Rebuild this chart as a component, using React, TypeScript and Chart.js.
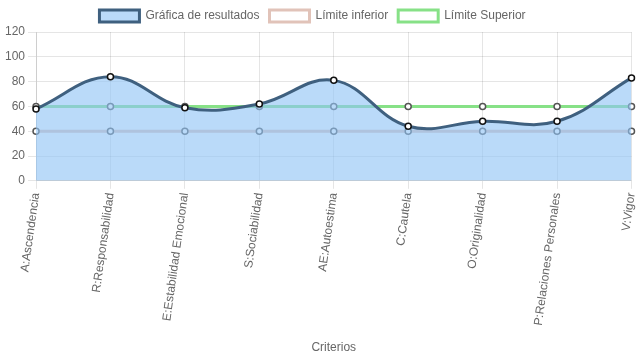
import React, { useEffect, useRef } from "react";
import { Chart, registerables } from "chart.js";

Chart.register(...registerables);

const categories = [
  "A:Ascendencia",
  "R:Responsabilidad",
  "E:Estabilidad Emocional",
  "S:Sociabilidad",
  "AE:Autoestima",
  "C:Cautela",
  "O:Originalidad",
  "P:Relaciones Personales",
  "V:Vigor",
];
const resultados = [58, 84, 59, 62, 81, 44, 48, 48, 83];
const limiteInferior = [40, 40, 40, 40, 40, 40, 40, 40, 40];
const limiteSuperior = [60, 60, 60, 60, 60, 60, 60, 60, 60];

export default function App() {
  const ref = useRef<HTMLCanvasElement>(null);
  useEffect(() => {
    document.body.style.margin = "0";
    const font = { family: "'Liberation Sans', Arial, sans-serif", size: 12 };
    Chart.defaults.color = "#666";
    const chart = new Chart(ref.current!, {
      type: "line",
      data: {
        labels: categories,
        datasets: [
          {
            label: "Gráfica de resultados",
            data: resultados,
            borderColor: "#3f607f",
            backgroundColor: "rgba(144,195,245,0.62)",
            borderWidth: 3,
            fill: "origin",
            tension: 0.4,
            pointRadius: 3,
            pointBorderWidth: 1.5,
            pointBackgroundColor: "#fff",
            pointBorderColor: "#111",
          },
          {
            label: "Límite inferior",
            data: limiteInferior,
            borderColor: "rgb(225,195,185)",
            backgroundColor: "#fff",
            borderWidth: 3,
            fill: false,
            tension: 0,
            pointRadius: 3,
            pointBorderWidth: 1.5,
            pointBackgroundColor: "#fff",
            pointBorderColor: "#555",
          },
          {
            label: "Límite Superior",
            data: limiteSuperior,
            borderColor: "rgb(135,225,135)",
            backgroundColor: "#fff",
            borderWidth: 3,
            fill: false,
            tension: 0,
            pointRadius: 3,
            pointBorderWidth: 1.5,
            pointBackgroundColor: "#fff",
            pointBorderColor: "#555",
          },
        ],
      },
      options: {
        animation: false,
        responsive: false,
        maintainAspectRatio: false,
        layout: { padding: { left: 2, right: 0 } },
        plugins: {
          legend: {
            labels: { font, boxWidth: 40, boxHeight: 12, color: "#666" },
          },
          tooltip: { enabled: false },
        },
        scales: {
          x: {
            title: { display: true, text: "Criterios", font, color: "#666" },
            ticks: { font, color: "#666", minRotation: 82, maxRotation: 82, autoSkip: false },
            grid: { color: "rgba(0,0,0,0.1)" },
            afterFit: (scale: any) => {
              scale.paddingRight = 0;
              scale.paddingLeft = 0;
              scale.height += 7;
            },
          },
          y: {
            min: 0,
            max: 120,
            ticks: { stepSize: 20, font, color: "#666" },
            grid: { color: "rgba(0,0,0,0.1)" },
          },
        },
      },
      plugins: [
        {
          id: "shiftLegend",
          afterLayout(c: any) {
            if (c.legend) {
              c.legend.left -= 7;
              c.legend.right -= 7;
            }
          },
        },
      ],
    });
    return () => chart.destroy();
  }, []);
  return <canvas ref={ref} width={637} height={359} style={{ display: "block" }} />;
}
